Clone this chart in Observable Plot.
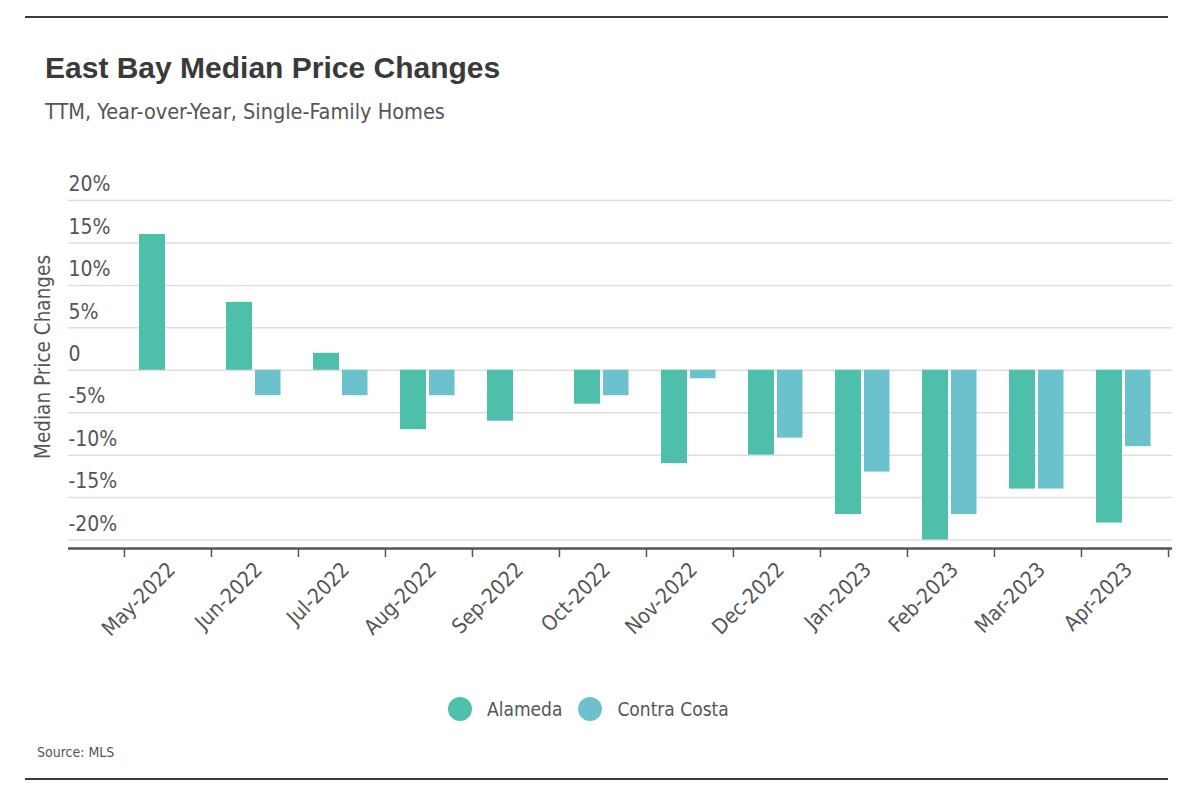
<!DOCTYPE html>
<html>
<head>
<meta charset="utf-8">
<script src="https://cdn.jsdelivr.net/npm/d3@7"></script>
<script src="https://cdn.jsdelivr.net/npm/@observablehq/plot@0.6"></script>
<style>
  html, body { margin: 0; padding: 0; background: #fff; }
  #wrap { position: relative; width: 1190px; height: 808px; overflow: hidden; background: #fff;
    font-family: "DejaVu Sans Condensed", "Liberation Sans Narrow", "Roboto", sans-serif; color: #555; }
  .hline { position: absolute; left: 25px; width: 1143px; height: 2px; background: #3a3a3a; }
  #title { position: absolute; left: 45px; top: 51px; font-family: "Liberation Sans", "Lato", sans-serif;
    font-weight: 700; font-size: 30px; line-height: 34px; color: #3a3a3a; white-space: nowrap; }
  #subtitle { position: absolute; left: 45px; top: 99px; font-size: 21.5px; line-height: 26px; color: #555; white-space: nowrap; }
  #ylabel { position: absolute; left: 43px; top: 357px; transform: translate(-50%, -50%) rotate(-90deg);
    font-size: 20.5px; color: #555; white-space: nowrap; }
  #chart { position: absolute; left: 0; top: 140px; }
  #legend { position: absolute; left: 448px; top: 697px; display: flex; align-items: center; font-size: 19px; color: #555; }
  .sw { width: 24px; height: 24px; border-radius: 50%; display: inline-block; margin-right: 15px; }
  .item { display: flex; align-items: center; margin-right: 16px; }
  #source { position: absolute; left: 37px; top: 744px; font-size: 14px; color: #555; }
</style>
</head>
<body>
<div id="wrap">
  <div class="hline" style="top:16px"></div>
  <div id="title">East Bay Median Price Changes</div>
  <div id="subtitle">TTM, Year-over-Year, Single-Family Homes</div>
  <div id="chart"></div>
  <div id="ylabel">Median Price Changes</div>
  <div id="legend"></div>
  <div id="source">Source: MLS</div>
  <div class="hline" style="top:778px"></div>
</div>
<script>
const months = ["May-2022","Jun-2022","Jul-2022","Aug-2022","Sep-2022","Oct-2022","Nov-2022","Dec-2022","Jan-2023","Feb-2023","Mar-2023","Apr-2023"];
const alameda = [16, 8, 2, -7, -6, -4, -11, -10, -17, -20, -14, -18];
const contraCosta = [null, -3, -3, -3, null, -3, -1, -8, -12, -17, -14, -9];
const yTicks = [20, 15, 10, 5, 0, -5, -10, -15, -20];
const seriesNames = ["Alameda", "Contra Costa"];
const seriesColors = ["#4ebfab", "#6bc2cc"];

const rowsA = months.map((m, i) => ({month: m, value: alameda[i]})).filter(d => d.value != null);
const rowsC = months.map((m, i) => ({month: m, value: contraCosta[i]})).filter(d => d.value != null);

const W = 1190, H = 530;
const xRange = [123, 1168];
const bw = (xRange[1] - xRange[0]) / months.length;

const fmt = d => d === 0 ? "0" : `${d}%`;

const chart = Plot.plot({
  width: W,
  height: H,
  marginTop: 60,
  marginBottom: 122,
  marginLeft: 68,
  marginRight: 18,
  style: {fontFamily: '"DejaVu Sans Condensed", "Liberation Sans Narrow", sans-serif', color: "#555", background: "transparent"},
  x: {domain: months, range: xRange, padding: 0},
  y: {domain: [-21, 20]},
  marks: [
    Plot.ruleY(yTicks, {y: d => d, stroke: "#dedede", strokeWidth: 1.5}),
    Plot.barY(rowsA, {x: "month", y: "value", fill: seriesColors[0], insetLeft: 15, insetRight: 46}),
    Plot.barY(rowsC, {x: "month", y: "value", fill: seriesColors[1], insetLeft: 44, insetRight: 17.5}),
    Plot.ruleY([-21], {stroke: "#555", strokeWidth: 2.5}),
    Plot.axisY(yTicks, {tickSize: 0, tickPadding: 0, textAnchor: "start", dy: -16, fontSize: 21, tickFormat: fmt, label: null}),
    Plot.axisX({tickSize: 0, tickRotate: -45, textAnchor: "end", lineAnchor: "top", tickPadding: 12, dx: -2, fontSize: 21, label: null}),
    Plot.axisX({tickSize: 9, tickFormat: () => "", dx: -bw / 2, label: null, stroke: "#555", strokeWidth: 1.5}),
    Plot.axisX([months[months.length - 1]], {tickSize: 9, tickFormat: () => "", dx: bw / 2, label: null, stroke: "#555", strokeWidth: 1.5})
  ]
});
document.getElementById("chart").appendChild(chart);

const legend = document.getElementById("legend");
seriesNames.forEach((name, i) => {
  const item = document.createElement("div");
  item.className = "item";
  item.innerHTML = `<span class="sw" style="background:${seriesColors[i]}"></span><span>${name}</span>`;
  legend.appendChild(item);
});
</script>
</body>
</html>
